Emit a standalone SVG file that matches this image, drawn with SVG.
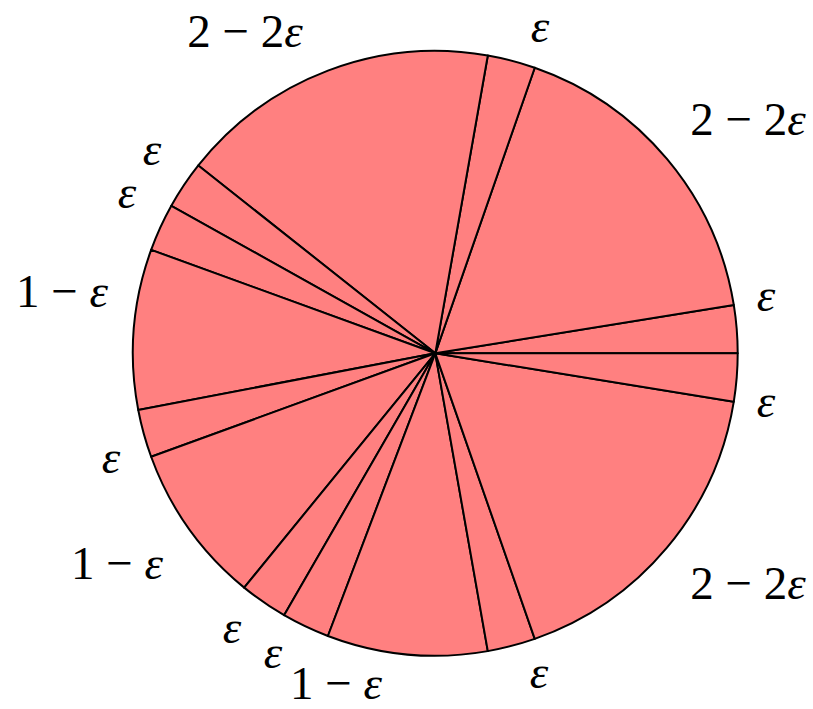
<svg xmlns="http://www.w3.org/2000/svg" width="813" height="709" viewBox="0 0 813 709">
<style>
.s{fill:#FF8080;stroke:#000;stroke-width:2;stroke-linejoin:round}
.e{font-style:italic}
</style>
<rect width="813" height="709" fill="#fff"/>
<g id="slices" font-family="Liberation Serif, DejaVu Serif, serif" font-size="47" text-anchor="middle" fill="#000">
<g id="s1"><path class="s" d="M435.3 353.3 L737.7 353.3 A302.4 302.4 0 0 0 733.8 304.95 Z"/><text x="766" y="311"><tspan class="e">ε</tspan></text></g>
<g id="s2"><path class="s" d="M435.3 353.3 L733.8 304.95 A302.4 302.4 0 0 0 534.75 67.72 Z"/><text x="748" y="135">2 − 2<tspan class="e">ε</tspan></text></g>
<g id="s3"><path class="s" d="M435.3 353.3 L534.75 67.72 A302.4 302.4 0 0 0 487.81 55.49 Z"/><text x="540" y="42"><tspan class="e">ε</tspan></text></g>
<g id="s4"><path class="s" d="M435.3 353.3 L487.81 55.49 A302.4 302.4 0 0 0 198.31 165.46 Z"/><text x="245" y="47">2 − 2<tspan class="e">ε</tspan></text></g>
<g id="s5"><path class="s" d="M435.3 353.3 L198.31 165.46 A302.4 302.4 0 0 0 171.33 205.77 Z"/><text x="152" y="165"><tspan class="e">ε</tspan></text></g>
<g id="s6"><path class="s" d="M435.3 353.3 L171.33 205.77 A302.4 302.4 0 0 0 151.14 249.87 Z"/><text x="127" y="208"><tspan class="e">ε</tspan></text></g>
<g id="s7"><path class="s" d="M435.3 353.3 L151.14 249.87 A302.4 302.4 0 0 0 138.25 409.96 Z"/><text x="62" y="307">1 − <tspan class="e">ε</tspan></text></g>
<g id="s8"><path class="s" d="M435.3 353.3 L138.25 409.96 A302.4 302.4 0 0 0 151.14 456.73 Z"/><text x="111" y="473"><tspan class="e">ε</tspan></text></g>
<g id="s9"><path class="s" d="M435.3 353.3 L151.14 456.73 A302.4 302.4 0 0 0 244.17 587.64 Z"/><text x="117" y="579">1 − <tspan class="e">ε</tspan></text></g>
<g id="s10"><path class="s" d="M435.3 353.3 L244.17 587.64 A302.4 302.4 0 0 0 284.1 615.19 Z"/><text x="232" y="643"><tspan class="e">ε</tspan></text></g>
<g id="s11"><path class="s" d="M435.3 353.3 L284.1 615.19 A302.4 302.4 0 0 0 327.91 635.99 Z"/><text x="273" y="668"><tspan class="e">ε</tspan></text></g>
<g id="s12"><path class="s" d="M435.3 353.3 L327.91 635.99 A302.4 302.4 0 0 0 487.81 651.11 Z"/><text x="336" y="699">1 − <tspan class="e">ε</tspan></text></g>
<g id="s13"><path class="s" d="M435.3 353.3 L487.81 651.11 A302.4 302.4 0 0 0 534.75 638.88 Z"/><text x="539" y="688"><tspan class="e">ε</tspan></text></g>
<g id="s14"><path class="s" d="M435.3 353.3 L534.75 638.88 A302.4 302.4 0 0 0 733.8 401.65 Z"/><text x="748" y="599">2 − 2<tspan class="e">ε</tspan></text></g>
<g id="s15"><path class="s" d="M435.3 353.3 L733.8 401.65 A302.4 302.4 0 0 0 737.7 353.3 Z"/><text x="766" y="417"><tspan class="e">ε</tspan></text></g>
</g>
<g id="connectors"></g>
</svg>
